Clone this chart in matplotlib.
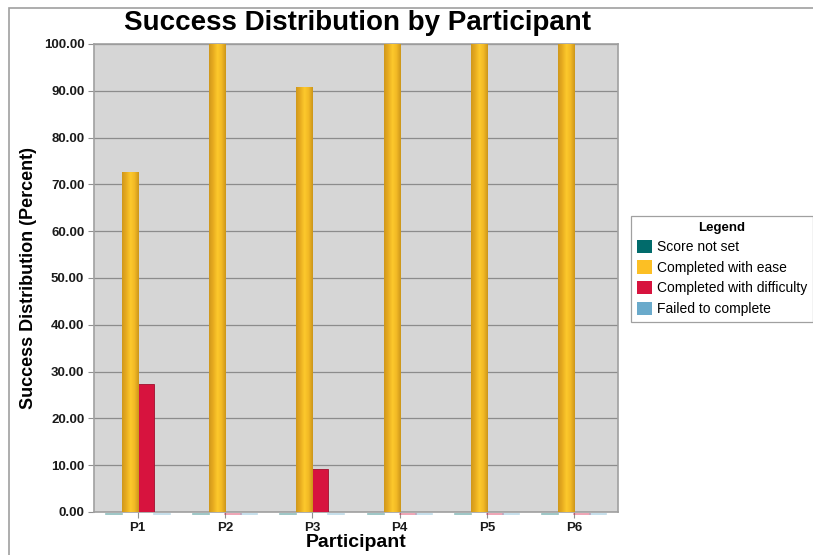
import numpy as np
import matplotlib.pyplot as plt
from matplotlib.patches import Patch, Rectangle
from matplotlib.colors import LinearSegmentedColormap

participants = ["P1", "P2", "P3", "P4", "P5", "P6"]
score_not_set = [0, 0, 0, 0, 0, 0]
completed_ease = [72.73, 100, 90.91, 100, 100, 100]
completed_difficulty = [27.27, 0, 9.09, 0, 0, 0]
failed = [0, 0, 0, 0, 0, 0]

series = [
    ("Score not set", score_not_set, "#016b6b"),
    ("Completed with ease", completed_ease, "#fcbf24"),
    ("Completed with difficulty", completed_difficulty, "#d7133e"),
    ("Failed to complete", failed, "#6aaacb"),
]

plt.rcParams['font.family'] = ['Liberation Sans', 'DejaVu Sans']

fig = plt.figure(figsize=(8.13, 5.55), dpi=100)
W, H = 813, 555
ax = fig.add_axes([94 / W, 1 - 512 / H, (618 - 94) / W, (512 - 44) / H])
ax.set_facecolor("#d6d6d6")

# outer frame of the chart area
fig.patches.append(Rectangle((9 / W, -0.1), 1.2, 1 - 8 / H + 0.1, transform=fig.transFigure,
                             fill=False, edgecolor="#a0a0a0", linewidth=1.2))

x = np.arange(len(participants))
w = 16 / 87
offsets = [-1.5 * w, -0.5 * w, 0.5 * w, 1.5 * w]

gold = LinearSegmentedColormap.from_list(
    "gold", ["#cf981c", "#e8ac20", "#fdc92c", "#f2b925", "#cc961b"])
grad = np.linspace(0, 1, 64).reshape(1, -1)

for (name, vals, color), off in zip(series, offsets):
    for xi, v in zip(x, vals):
        if v == 0:
            ax.plot([xi + off - w / 2, xi + off + w / 2], [-0.4, -0.4], color=color,
                    alpha=0.45, linewidth=1.2, clip_on=False, zorder=1)
            continue
        if name == "Completed with ease":
            bar = ax.bar(xi + off, v, w, color=color, edgecolor="#c9a04a",
                         linewidth=0.6, zorder=3)[0]
            im = ax.imshow(grad, cmap=gold, aspect="auto", zorder=3.5,
                           extent=(xi + off - w / 2, xi + off + w / 2, 0, v))
            im.set_clip_path(bar)
        else:
            ax.bar(xi + off, v, w, color=color, edgecolor="#a0102e",
                   linewidth=0.6, zorder=3)

ax.set_xlim(-0.5, len(participants) - 0.5)
ax.set_ylim(0, 100)
ax.set_yticks(np.arange(0, 101, 10))
ax.set_yticklabels([f"{v:.2f}" for v in np.arange(0, 101, 10)],
                   fontsize=9.5, fontweight="bold", color="#1a1a1a")
ax.set_xticks(x)
ax.set_xticklabels(participants, fontsize=9.5, fontweight="bold", color="#1a1a1a")
ax.tick_params(axis="both", length=4, color="#909090", width=0.8)
ax.tick_params(axis="y", pad=3)
ax.tick_params(axis="x", pad=3)
ax.grid(axis="y", color="#8c8c8c", linewidth=0.9)
ax.set_axisbelow(True)
for s in ax.spines.values():
    s.set_color("#a0a0a0")
    s.set_linewidth(1.2)

ax.set_xlabel("Participant", fontsize=14, fontweight="bold", labelpad=0)
ax.set_ylabel("Success Distribution (Percent)", fontsize=13, fontweight="bold", labelpad=5)
fig.text(357 / W, 1 - 23 / H, "Success Distribution by Participant", ha="center",
         va="center", fontsize=20, fontweight="bold")

handles = [Patch(facecolor=c, edgecolor="none") for _, _, c in series]
leg = fig.legend(handles, [n for n, _, _ in series], loc="upper left",
                 bbox_to_anchor=(631 / W, 1 - 216 / H), title="Legend",
                 fontsize=10, title_fontproperties={"weight": "bold", "size": 9.5},
                 fancybox=False, edgecolor="#a0a0a0", framealpha=1,
                 handlelength=1.1, handleheight=1.1, handletextpad=0.4,
                 labelspacing=0.45, borderpad=0.4, borderaxespad=0)
leg.get_frame().set_linewidth(0.9)

fig.savefig("out.png", dpi=100)
